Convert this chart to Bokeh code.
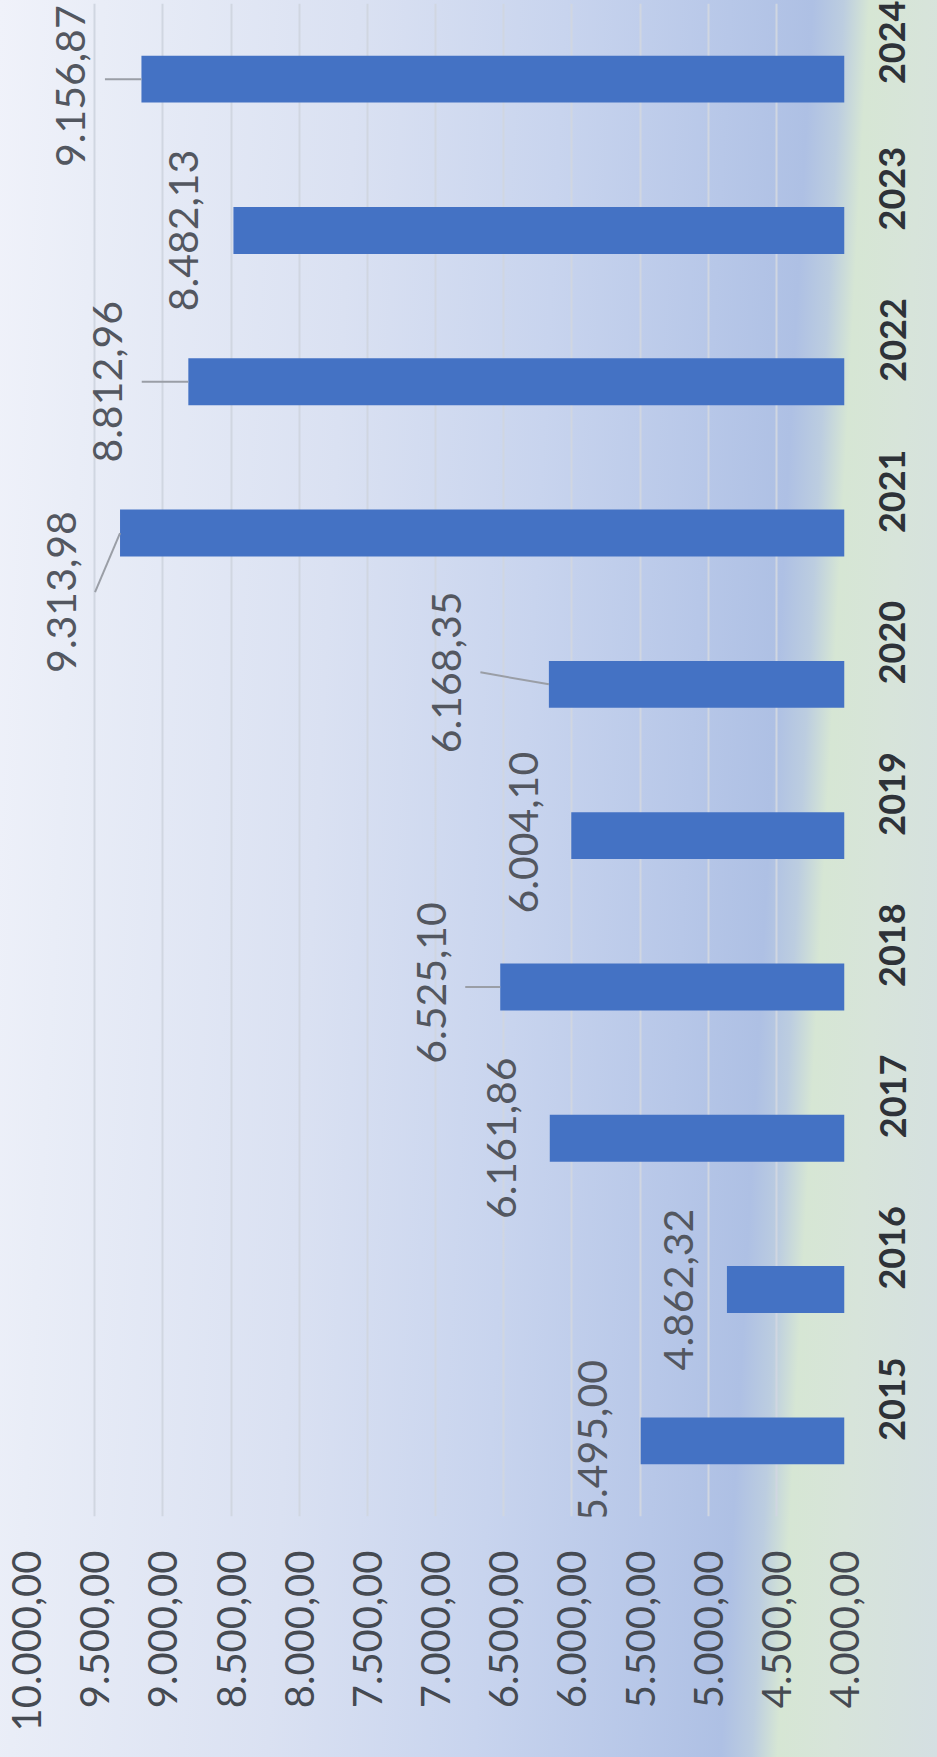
import math
from bokeh.plotting import figure
from bokeh.models import Range1d, FixedTicker, ColumnDataSource, GlobalInlineStyleSheet
from bokeh.core.properties import value
from bokeh.embed import file_html
from bokeh.resources import INLINE

# ---- data ----
years = [2015, 2016, 2017, 2018, 2019, 2020, 2021, 2022, 2023, 2024]
year_labels = ["2015", "2016", "2017", "2018", "2019", "2020", "2021", "2022", "2023", "2024"]
values = [5495.00, 4862.32, 6161.86, 6525.10, 6004.10, 6168.35, 9313.98, 8812.96, 8482.13, 9156.87]
axis_ticks = [4000, 4500, 5000, 5500, 6000, 6500, 7000, 7500, 8000, 8500, 9000, 9500, 10000]
axis_tick_labels = ["4.000,00", "4.500,00", "5.000,00", "5.500,00", "6.000,00", "6.500,00",
                    "7.000,00", "7.500,00", "8.000,00", "8.500,00", "9.000,00", "9.500,00", "10.000,00"]

# ---- label placement (screen px, left = negative, down = positive) ----
label_dx = [-48, -48, -48.5, -69, -48, -102.5, -59, -80.6, -50, -70.5]
label_dy = [0, 0, 0, -4, -3, -12, 59, 0, 0, 7]
has_leader = [False, False, False, True, False, True, True, True, False, True]

FRAME_W, FRAME_H = 818, 1513
X0, X1 = 10000, 4000
Y0, Y1 = 2014.5, 2024.5
ux = (X0 - X1) / FRAME_W      # value units per px (leftwards = increasing)
uy = (Y1 - Y0) / FRAME_H      # year units per px (downwards = decreasing)


def fmt(v):
    s = f"{v:,.2f}"
    return s.replace(",", "X").replace(".", ",").replace("X", ".")


label_text = [fmt(v) for v in values]
lx = [v - dx * ux for v, dx in zip(values, label_dx)]
ly = [y - dy * uy for y, dy in zip(years, label_dy)]

lead_x0, lead_y0, lead_x1, lead_y1 = [], [], [], []
for v, y, dx, dy, h in zip(values, years, label_dx, label_dy, has_leader):
    if h:
        lead_x0.append(v)
        lead_y0.append(y)
        lead_x1.append(v - (dx + 34) * ux)
        lead_y1.append(y - (dy if abs(dy) > 8 else 0) * uy)

p = figure(frame_width=FRAME_W, frame_height=FRAME_H,
           x_range=Range1d(X0, X1), y_range=Range1d(Y0, Y1),
           y_axis_location="right", x_axis_location="below",
           output_backend="svg", toolbar_location=None,
           min_border_left=26, min_border_top=3, min_border_right=0, min_border_bottom=0)

p.background_fill_color = None
p.border_fill_color = None
p.outline_line_color = None

# gradient page background
p.stylesheets = [GlobalInlineStyleSheet(css=(
    "html{height:100%;background:linear-gradient(93deg,"
    "#f0f2fa 0%,#e9edf7 10%,#dae1f2 35%,#c8d4ee 55%,#b7c7e8 71%,#aec0e4 79%,"
    "#bccde0 82%,#d6e6d4 84.5%,#d7e4da 90%,#d4dfe2 100%) no-repeat;background-size:100% 100%;}"
    "body{background:transparent;}"
))]

# grid
p.xgrid.ticker = FixedTicker(ticks=axis_ticks)
p.xgrid.grid_line_color = "#d0d6e1"
p.xgrid.grid_line_width = 2
p.ygrid.grid_line_color = None

# bars
src = ColumnDataSource(dict(y=years, right=values))
p.hbar(y="y", left=4000, right="right", height=0.31, source=src,
       fill_color="#4472C4", line_color=None)

# leader lines
p.segment(x0=lead_x0, y0=lead_y0, x1=lead_x1, y1=lead_y1,
          line_color="#9a9ea6", line_width=2)

# data labels
p.text(x=lx, y=ly, text=label_text, angle=math.pi / 2,
       text_align="center", text_baseline="middle",
       text_font=value("Lato"), text_font_size="41px", text_color="#535760")

# value axis (bottom)
xa = p.xaxis[0]
xa.ticker = FixedTicker(ticks=axis_ticks)
xa.major_label_overrides = {t: s for t, s in zip(axis_ticks, axis_tick_labels)}
xa.major_label_orientation = math.pi / 2
xa.major_label_text_font = "Lato"
xa.major_label_text_font_size = "40px"
xa.major_label_text_color = "#454a52"
xa.major_label_standoff = 28
xa.axis_line_color = None
xa.major_tick_line_color = None
xa.minor_tick_line_color = None

# category axis (right)
ya = p.yaxis[0]
ya.ticker = FixedTicker(ticks=years)
ya.major_label_overrides = {y: s for y, s in zip(years, year_labels)}
ya.major_label_orientation = math.pi / 2
ya.major_label_text_font = "Lato"
ya.major_label_text_font_style = "bold"
ya.major_label_text_font_size = "36px"
ya.major_label_text_color = "#2e3238"
ya.major_label_standoff = 42
ya.axis_line_color = None
ya.major_tick_line_color = None
ya.minor_tick_line_color = None

open("out.html", "w").write(file_html(p, INLINE))
